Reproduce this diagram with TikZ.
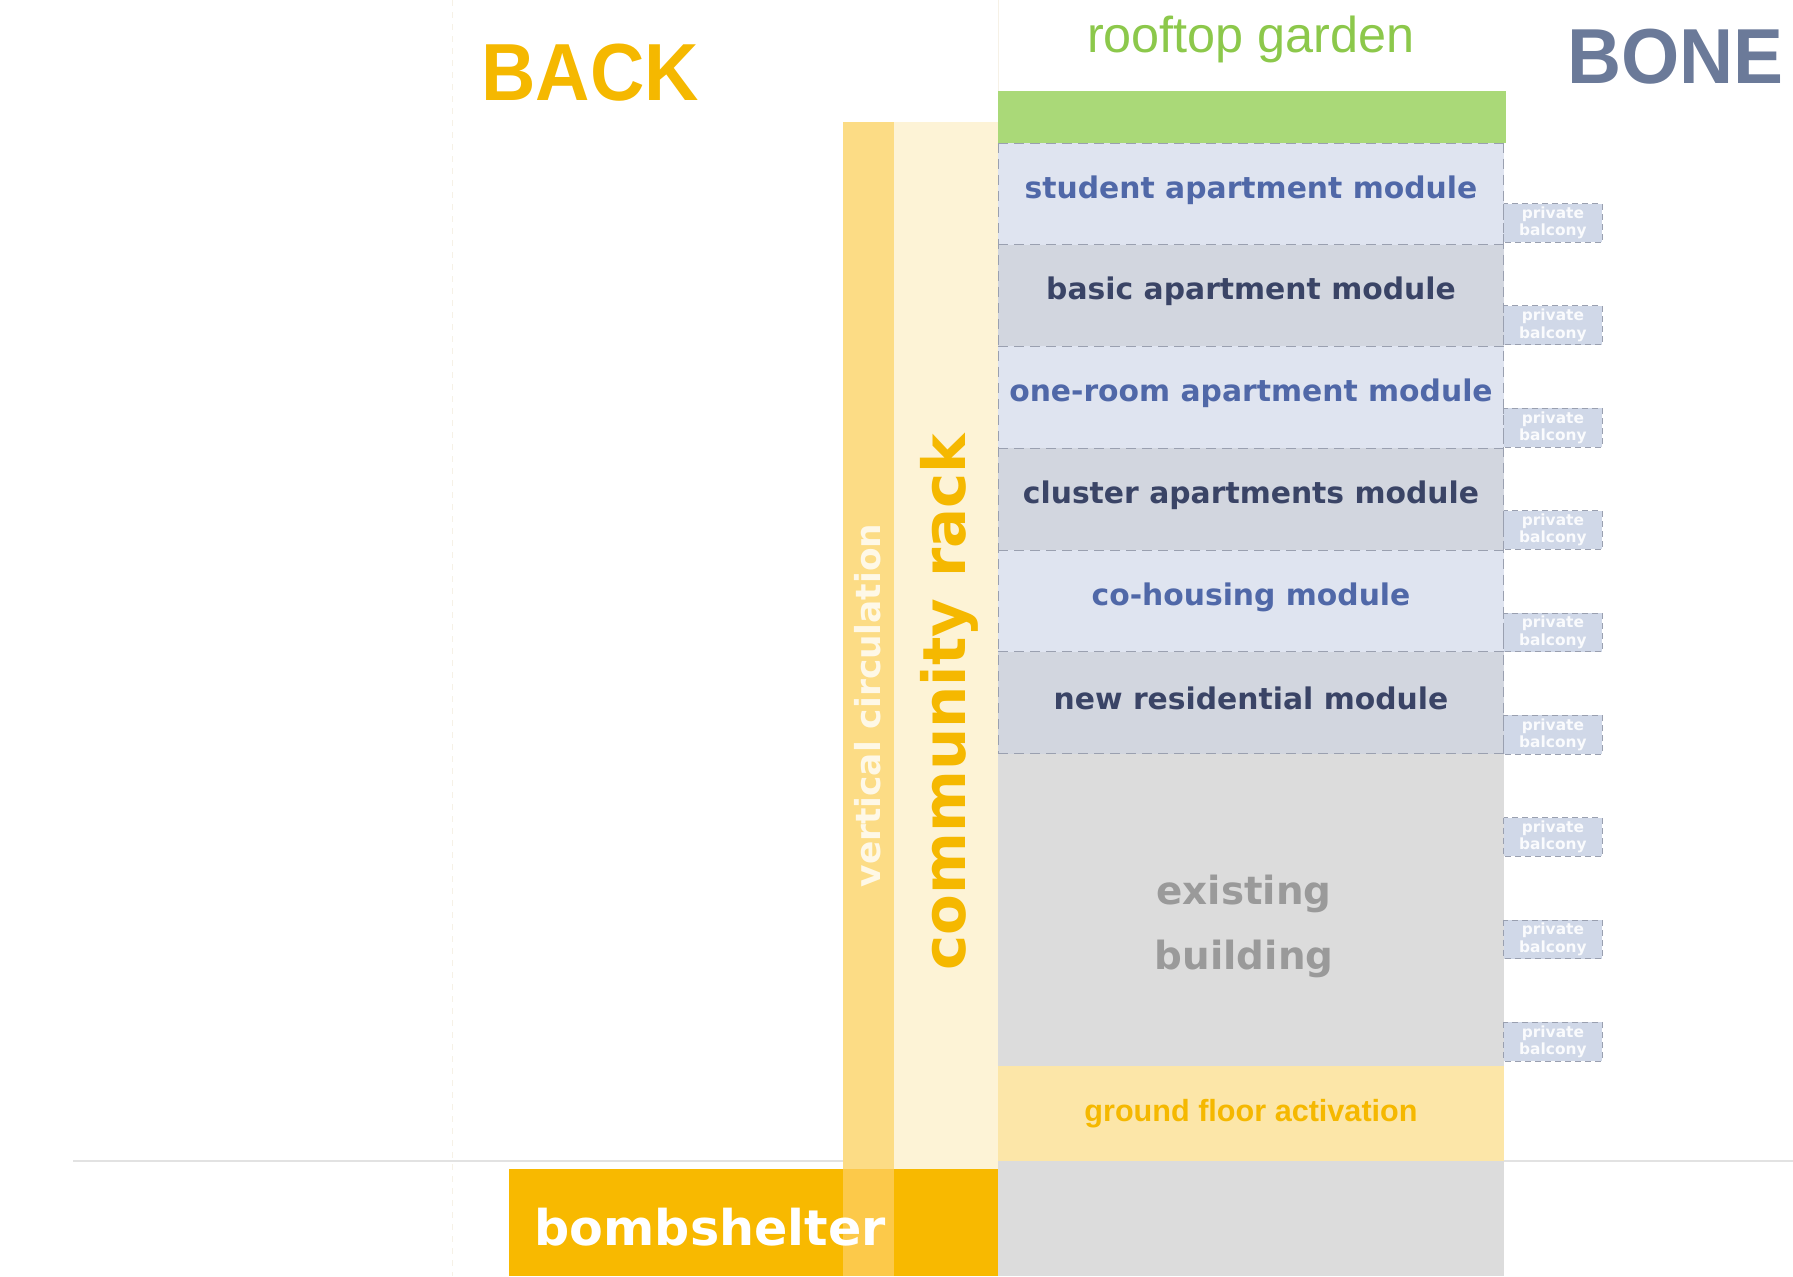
\documentclass[tikz,border=0pt]{standalone}
\usepackage{fontspec}
\newfontfamily\dv{DejaVu Sans}
\newfontfamily\lib{Liberation Sans}
\definecolor{vcc}{HTML}{FCDC85}
\definecolor{vcsh}{HTML}{FCC94A}
\definecolor{rackc}{HTML}{FDF3D6}
\definecolor{shelter}{HTML}{F8B900}
\definecolor{gold}{HTML}{F5B800}
\definecolor{greenbar}{HTML}{AAD978}
\definecolor{greentxt}{HTML}{8CC84B}
\definecolor{modA}{HTML}{DFE4F0}
\definecolor{modB}{HTML}{D2D6DF}
\definecolor{txtA}{HTML}{5068A8}
\definecolor{txtB}{HTML}{3A4466}
\definecolor{exist}{HTML}{DCDCDC}
\definecolor{existtxt}{HTML}{9A9A9A}
\definecolor{gfa}{HTML}{FCE6A8}
\definecolor{balc}{HTML}{D0D8E8}
\definecolor{dashc}{HTML}{9AA0B0}
\definecolor{bonec}{HTML}{6B7A99}
\definecolor{groundc}{HTML}{E2E2E2}
\definecolor{faintc}{HTML}{F6F1E6}
\tikzset{
  modline/.style={draw=dashc, dash pattern=on 5pt off 3pt, line width=0.4pt},
  modtxt/.style={font=\dv\bfseries\fontsize{14.9pt}{17pt}\selectfont, inner sep=0pt},
  balbox/.style={fill=balc, draw=dashc, dash pattern=on 3pt off 2pt, line width=0.4pt},
  baltxt/.style={font=\dv\bfseries\fontsize{7.7pt}{8.6pt}\selectfont, text=white!90!balc, align=center, inner sep=0pt},
}
\begin{document}
\begin{tikzpicture}[x=0.57175pt,y=-0.57175pt]
\useasboundingbox (0,0) rectangle (1568,1116);
% faint guide lines
\draw[faintc, dashed, line width=0.5pt] (396,0) -- (396,1116);
\draw[faintc, line width=0.5pt] (873,0) -- (873,80);
% ground line
\draw[groundc, line width=0.9pt] (64,1015) -- (1568,1015);
% columns
\fill[vcc] (737,107) rectangle (782,1022);
\fill[rackc] (782,107) rectangle (873,1022);
\fill[shelter] (445,1022) rectangle (873,1116);
\fill[vcsh] (737,1022) rectangle (782,1116);
% green roof
\fill[greenbar] (873,80) rectangle (1317,125);
% modules
\foreach \i/\fc/\tc/\txt in {0/modA/txtA/student apartment module,1/modB/txtB/basic apartment module,2/modA/txtA/one-room apartment module,3/modB/txtB/cluster apartments module,4/modA/txtA/co-housing module,5/modB/txtB/new residential module}{
  \fill[\fc] (873,125+89*\i) rectangle (1315,214+89*\i);
  \node[modtxt, text=\tc] (mod\i) at (1094,166+89*\i) {\txt};
}
\foreach \i in {0,...,6}{
  \draw[modline] (873,125+89*\i) -- (1315,125+89*\i);
}
\draw[modline] (873,125) -- (873,659);
\draw[modline] (1315,125) -- (1315,659);
% existing building
\fill[exist] (873,659) rectangle (1315,932);
\node[font=\dv\bfseries\fontsize{19.4pt}{32.6pt}\selectfont, text=existtxt, align=center, inner sep=0pt] (exist) at (1088,810) {existing\\building};
% ground floor activation
\fill[gfa] (873,932) rectangle (1315,1015);
\node[font=\lib\bfseries\fontsize{15.3pt}{18pt}\selectfont, text=gold, inner sep=0pt] (gfa) at (1094,974) {ground floor activation};
% basement
\fill[exist] (873,1015) rectangle (1315,1116);
% balconies
\foreach \i in {0,...,8}{
  \draw[balbox] (1315,178+89.5*\i) rectangle (1401,212+89.5*\i);
  \node[baltxt] (bal\i) at (1358,195+89.5*\i) {private\\balcony};
}
% labels
\node[font=\lib\bfseries\fontsize{40.5pt}{44pt}\selectfont, text=gold, anchor=base, inner sep=0pt] (back) at (516,88) {\scalebox{0.93}[1]{BACK}};
\node[font=\lib\bfseries\fontsize{39pt}{44pt}\selectfont, text=bonec, anchor=base, inner sep=0pt] (bone) at (1465,73) {\scalebox{0.96}[1]{BONE}};
\node[font=\lib\fontsize{25.2pt}{28pt}\selectfont, text=greentxt, anchor=base, inner sep=0pt] (roof) at (1094,46) {rooftop garden};
\node[font=\dv\bfseries\fontsize{29.7pt}{32pt}\selectfont, text=gold, rotate=90, inner sep=0pt] (rack) at (830,614) {community rack};
\node[font=\dv\bfseries\fontsize{17.2pt}{20pt}\selectfont, text=white!80!vcc, rotate=90, inner sep=0pt] (vc) at (759,617) {vertical circulation};
\node[font=\dv\bfseries\fontsize{24.6pt}{28pt}\selectfont, text=white, inner sep=0pt] (shelterlbl) at (621,1073) {bombshelter};
\end{tikzpicture}
\end{document}
